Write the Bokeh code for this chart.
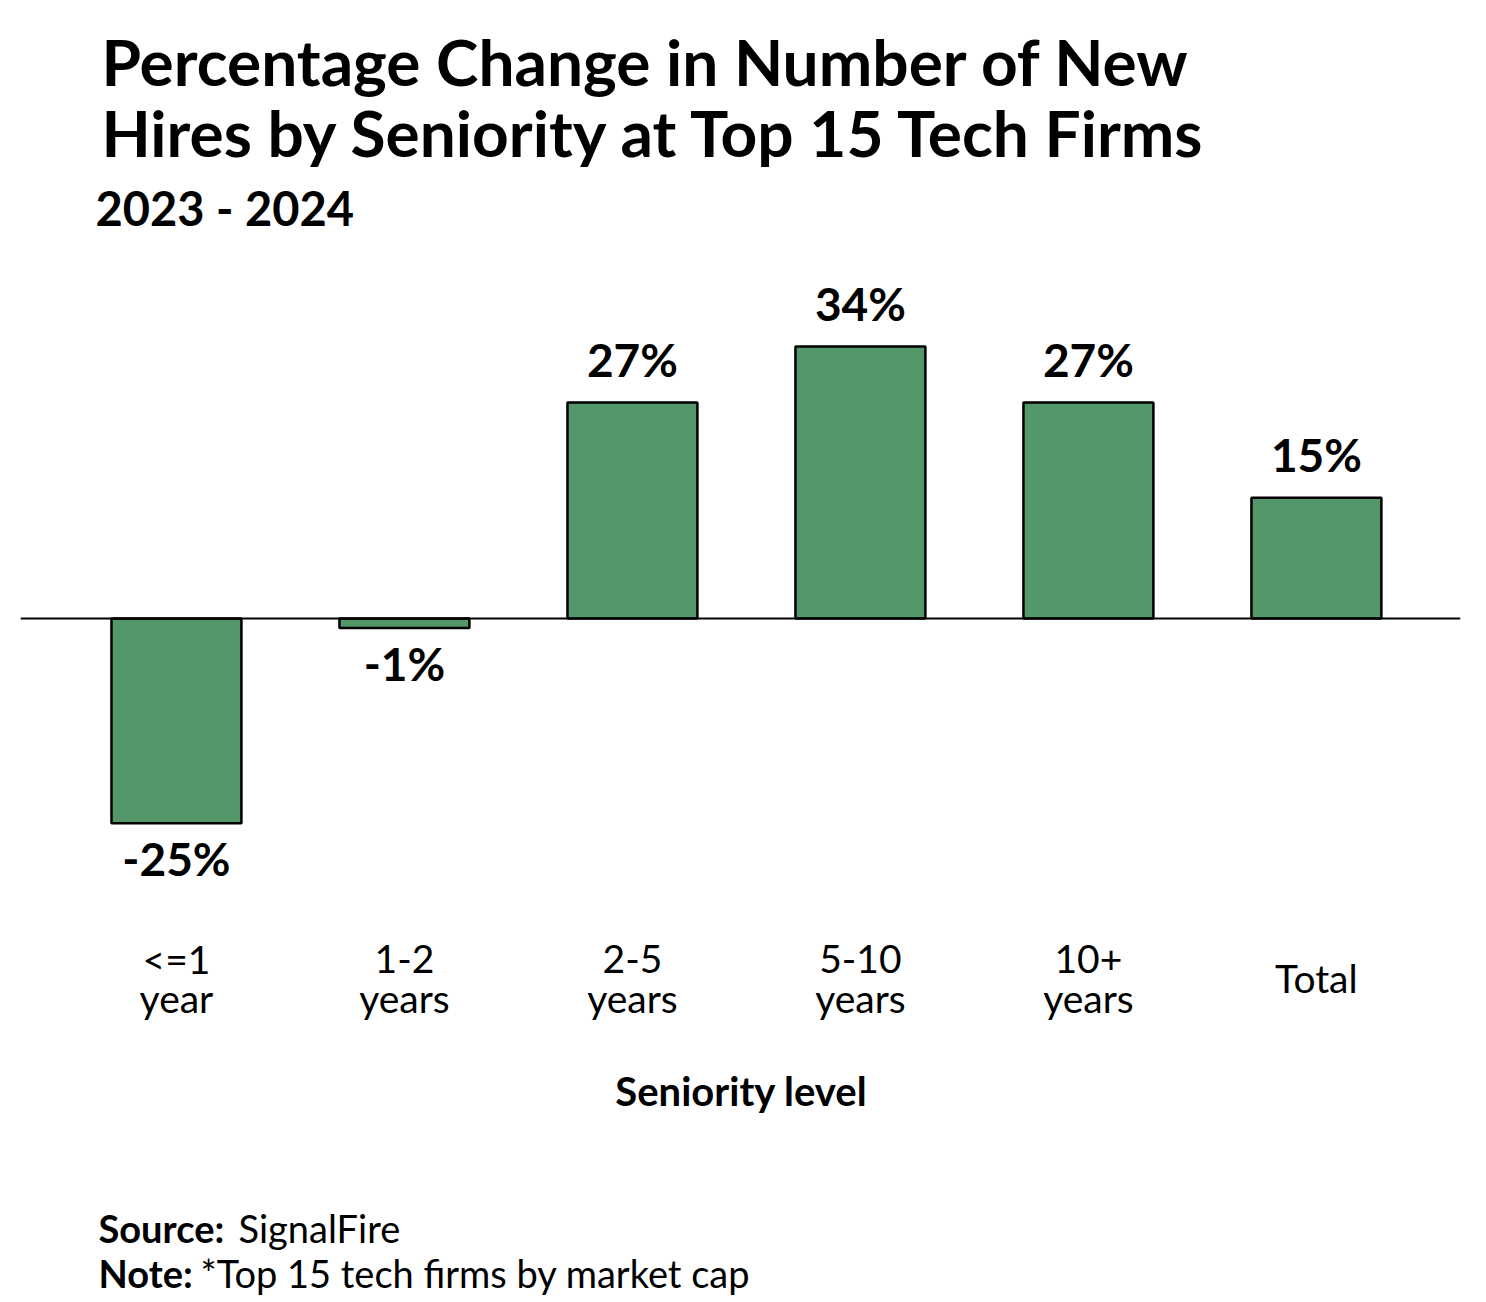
from bokeh.plotting import figure
from bokeh.models import ColumnDataSource, Range1d, Label, Span
from bokeh.core.properties import value
from bokeh.embed import file_html
from bokeh.resources import INLINE

categories = ["<=1\nyear", "1-2\nyears", "2-5\nyears", "5-10\nyears", "10+\nyears", "Total"]
pct_change = [-25.6, -1.2, 27.0, 34.0, 27.0, 15.1]
value_labels = ["-25%", "-1%", "27%", "34%", "27%", "15%"]

title_lines = ["Percentage Change in Number of New", "Hires by Seniority at Top 15 Tech Firms"]
subtitle = "2023 - 2024"
x_title = "Seniority level"
source_text = ("Source:", "SignalFire")
note_text = ("Note:", "*Top 15 tech firms by market cap")

W, H = 1486, 1302
LEFT, RIGHT = 20, 26          # frame inset so the zero line spans 20..1460
PX_PER = 8.0                  # pixels per percentage point
ZERO = 618                    # zero line, px from top
BAR_COLOR = "#53976A"
FONT = "Lato"
FIX = 0.41                    # baseline correction (fraction of font size)

p = figure(width=W, height=H, output_backend="svg", toolbar_location=None,
           x_axis_location=None, y_axis_location=None,
           min_border=0, min_border_left=LEFT, min_border_right=RIGHT,
           min_border_top=0, min_border_bottom=0)
p.outline_line_color = None
p.background_fill_color = "white"
p.border_fill_color = "white"
p.xgrid.visible = False
p.ygrid.visible = False

n = len(categories)
p.x_range = Range1d(-0.684, (n - 1) + 0.632)
p.y_range = Range1d(-(H - ZERO) / PX_PER, ZERO / PX_PER)

xs = list(range(n))
VSIZE = 46
src = ColumnDataSource(dict(
    x=xs, top=pct_change, lab=value_labels,
    yoff=[(-24 if v >= 0 else 54) - FIX * VSIZE for v in pct_change],
))

p.vbar(x="x", top="top", bottom=0, width=0.57, source=src,
       fill_color=BAR_COLOR, line_color="black", line_width=2.5)

p.add_layout(Span(location=0, dimension="width", line_color="black", line_width=2))

p.text(x="x", y="top", text="lab", y_offset="yoff", source=src,
       text_align="center", text_baseline="alphabetic",
       text_font=value(FONT), text_font_style="bold", text_font_size=f"{VSIZE}px",
       text_color="black")

# category labels (split into lines)
CSIZE = 39
parts = [c.split("\n") for c in categories]
cx, ctext, coff = [], [], []
for i, lines in enumerate(parts):
    if len(lines) == 2:
        offs = [356, 395]
    else:
        offs = [375]
    for t, o in zip(lines, offs):
        cx.append(i)
        ctext.append(t)
        coff.append(o - FIX * CSIZE)
csrc = ColumnDataSource(dict(x=cx, y=[0] * len(cx), t=ctext, off=coff))
p.text(x="x", y="y", text="t", y_offset="off", source=csrc,
       text_align="center", text_baseline="alphabetic",
       text_font=value(FONT), text_font_size=f"{CSIZE}px", text_color="black")


def add_label(txt, x_page, y_page_baseline, size, bold=True, align="left"):
    p.add_layout(Label(x=x_page - LEFT, y=H - (y_page_baseline - FIX * size),
                       x_units="screen", y_units="screen",
                       text=txt, text_font=FONT, text_font_size=f"{size}px",
                       text_font_style="bold" if bold else "normal",
                       text_align=align, text_baseline="alphabetic", text_color="black"))


add_label(title_lines[0], 101, 87, 64)
add_label(title_lines[1], 101, 158, 64)
add_label(subtitle, 95, 227, 47)
add_label(x_title, 741, 1107, 40, align="center")

add_label(source_text[0], 98, 1243, 38)
add_label(source_text[1], 238, 1243, 38, bold=False)
add_label(note_text[0], 98, 1288, 38)
add_label(note_text[1], 200, 1288, 38, bold=False)

open("out.html", "w").write(file_html(p, INLINE))
